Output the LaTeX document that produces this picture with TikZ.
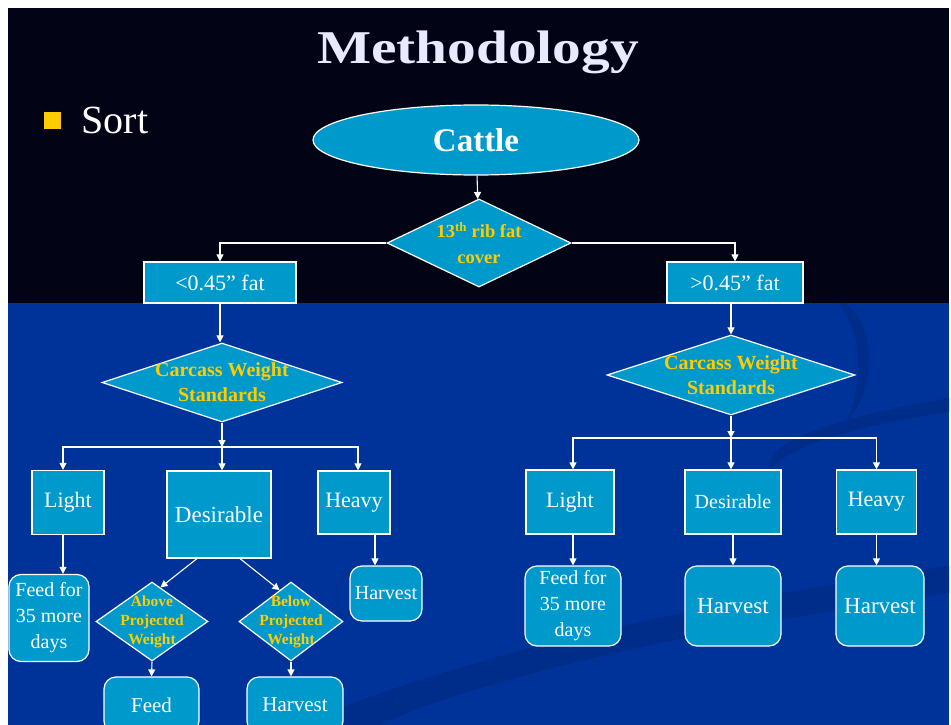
\documentclass[tikz,border=0pt]{standalone}
\usepackage{fontspec}
\setmainfont{Liberation Serif}
\newfontfamily\titlefont[FakeStretch=1.22]{Liberation Serif}
\usetikzlibrary{shapes.geometric,arrows.meta}
\definecolor{slidedark}{RGB}{3,3,22}
\definecolor{slideblue}{RGB}{0,51,153}
\definecolor{swoosh}{RGB}{0,44,138}
\definecolor{boxfill}{RGB}{0,153,204}
\definecolor{gold}{RGB}{255,204,0}
\definecolor{titlecol}{RGB}{234,234,255}
\begin{document}
\begin{tikzpicture}[x=1pt,y=-1pt,
  >={Triangle[width=7pt,length=7pt]},
  line/.style={draw=white, line width=1.1pt},
  box/.style={rectangle, draw=white, line width=1.2pt, fill=boxfill, text=white, inner sep=0pt, font=\fontsize{22}{26}\selectfont},
  rbox/.style={box, rounded corners=12pt, align=center},
  dia/.style={diamond, draw=white, line width=1.2pt, fill=boxfill, inner sep=0pt},
  dtext/.style={text=gold, align=center, font=\bfseries\fontsize{20}{25}\selectfont}]
	%Slide
\useasboundingbox (0,0) rectangle (951,725);
\fill[white] (0,0) rectangle (951,725);
\fill[slidedark] (8,8) rectangle (949,303); %Top band
\fill[slideblue] (8,303) rectangle (949,725); %Lower band
\begin{scope}
  \clip (8,303) rectangle (949,725);
  \fill[swoosh] (300,725) .. controls (420,670) and (650,610) .. (949,566) -- (949,593) .. controls (650,635) and (450,690) .. (380,725) -- cycle;
  \fill[swoosh] (770,470) .. controls (760,440) and (850,415) .. (949,398) -- (949,412) .. controls (860,425) and (790,445) .. (770,470) -- cycle;
  \fill[swoosh] (845,303) .. controls (880,330) and (875,390) .. (845,425) .. controls (862,390) and (865,335) .. (838,303) -- cycle;
\end{scope}
	%Title
\node[anchor=base, text=titlecol, font=\titlefont\bfseries\fontsize{47}{50}\selectfont] (title) at (478,64) {Methodology};
\node[fill=gold, minimum size=17pt, inner sep=0pt] (bullet) at (52.5,120.5) {};
\node[anchor=base west, text=white, font=\fontsize{40}{44}\selectfont] (sort) at (78,133) {Sort};
	%Top of the tree
\node[ellipse, draw=white, line width=1.2pt, fill=boxfill, minimum width=326pt, minimum height=70pt, inner sep=0pt, text=white, font=\bfseries\fontsize{33}{36}\selectfont] (cattle) at (476,140) {Cattle};
\node[dia, minimum width=184pt, minimum height=88pt, label={[dtext, font=\bfseries\fontsize{18.5}{26}\selectfont]center:{13\textsuperscript{th} rib fat\\cover}}] (rib) at (479,243) {};
\node[box, minimum width=152pt, minimum height=41pt] (lt) at (220,282.5) {<0.45” fat};
\node[box, minimum width=136pt, minimum height=41pt] (gt) at (735,282.5) {>0.45” fat};
\draw[line,->] (cattle) -- (rib);
\draw[line,->] (rib.west) -| (lt.north);
\draw[line,->] (rib.east) -| (gt.north);
	%Left branch
\node[dia, minimum width=240pt, minimum height=79pt, label={[dtext]center:{Carcass Weight\\Standards}}] (ldia) at (222,382.5) {};
\coordinate (lbar) at (ldia.south |- 0,447);
\node[box, minimum width=72pt, minimum height=64pt] (llight) at (68,502.5) {Light};
\node[box, minimum width=104pt, minimum height=87pt, font=\fontsize{23}{26}\selectfont] (ldes) at (219,514.5) {Desirable};
\node[box, minimum width=72pt, minimum height=63pt] (lheavy) at (354,502.5) {Heavy};
\node[rbox, minimum width=80pt, minimum height=87pt, font=\fontsize{20}{26}\selectfont] (lfeedmore) at (49,618) {Feed for\\35 more\\days};
\node[rbox, minimum width=72pt, minimum height=55pt, font=\fontsize{20}{24}\selectfont] (lharv) at (386,593.5) {Harvest};
\node[dia, minimum width=112pt, minimum height=79pt, label={[dtext, font=\bfseries\fontsize{15.5}{19}\selectfont]center:{Above\\Projected\\Weight}}] (labove) at (152,621.5) {};
\node[dia, minimum width=104pt, minimum height=79pt, label={[dtext, font=\bfseries\fontsize{15.5}{19}\selectfont]center:{Below\\Projected\\Weight}}] (lbelow) at (291,621.5) {};
\node[rbox, minimum width=95pt, minimum height=56pt, font=\fontsize{21}{24}\selectfont] (lfeed) at (151.5,705) {Feed};
\node[rbox, minimum width=96pt, minimum height=56pt, font=\fontsize{21}{24}\selectfont] (lharvb) at (295,705) {Harvest};
\draw[line,->] (lt) -- (lt.south |- ldia.north);
\draw[line,->] (ldia.south) -- (lbar);
\draw[line,->] (lbar) -| ([xshift=-5pt]llight.north);
\draw[line,->] (lbar) -- (lbar |- ldes.north);
\draw[line,->] (lbar) -| ([xshift=4pt]lheavy.north);
\draw[line,->] ([xshift=-5pt]llight.south) -- ([xshift=14pt]lfeedmore.north);
\draw[line,->] ([xshift=21pt]lheavy.south) -- ([xshift=-11pt]lharv.north);
\draw[line,->] ([xshift=-22pt]ldes.south) -- (labove.76);
\draw[line,->] ([xshift=21pt]ldes.south) -- (lbelow.110);
\draw[line,->] (labove.south) -- (lfeed.north);
\draw[line,->] (lbelow.south) -- (lbelow.south |- lharvb.north);
	%Right branch
\node[dia, minimum width=248pt, minimum height=80pt, label={[dtext]center:{Carcass Weight\\Standards}}] (rdia) at (731,375) {};
\coordinate (rbar) at (rdia.south |- 0,438);
\node[box, minimum width=88pt, minimum height=64pt] (rlight) at (570,502) {Light};
\node[box, minimum width=96pt, minimum height=64pt, font=\fontsize{20}{24}\selectfont] (rdes) at (733,502) {Desirable};
\node[box, minimum width=80pt, minimum height=64pt] (rheavy) at (876.5,502) {Heavy};
\node[rbox, minimum width=96pt, minimum height=80pt, font=\fontsize{20}{26}\selectfont] (rfeedmore) at (573,606) {Feed for\\35 more\\days};
\node[rbox, minimum width=96pt, minimum height=80pt, font=\fontsize{23}{26}\selectfont] (rharv) at (733,606) {Harvest};
\node[rbox, minimum width=88pt, minimum height=80pt, font=\fontsize{23}{26}\selectfont] (rharvb) at (880,606) {Harvest};
\draw[line,->] (gt.south -| rdia.north) -- (rdia.north);
\draw[line,->] (rdia.south) -- (rbar);
\draw[line,->] (rbar) -| ([xshift=3pt]rlight.north);
\draw[line,->] (rbar) -- (rbar |- rdes.north);
\draw[line,->] (rbar) -| (rheavy.north);
\draw[line,->] ([xshift=3pt]rlight.south) -- (rfeedmore.north);
\draw[line,->] (rdes) -- (rharv);
\draw[line,->] (rheavy.south) -- (rheavy.south |- rharvb.north);
\end{tikzpicture}
\end{document}
